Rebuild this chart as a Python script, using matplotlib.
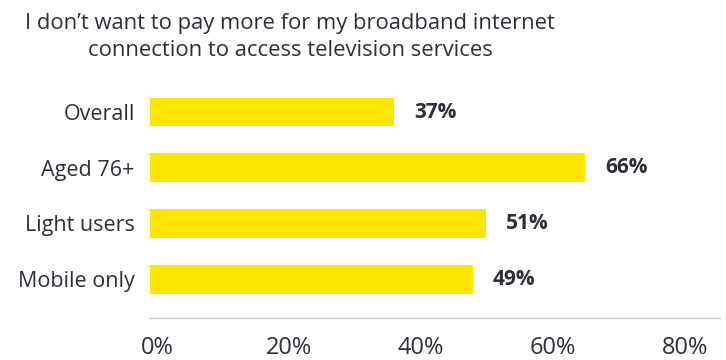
import matplotlib.pyplot as plt
from matplotlib.transforms import ScaledTranslation

categories = ["Overall", "Aged 76+", "Light users", "Mobile only"]
values = [37, 66, 51, 49]
tick_values = [0, 20, 40, 60, 80]
tick_labels = ["0%", "20%", "40%", "60%", "80%"]

YELLOW = "#FFE600"
DARK = "#2E2E38"
plt.rcParams["font.family"] = ["Open Sans", "DejaVu Sans"]

fig = plt.figure(figsize=(7.26, 3.6), dpi=100)
ax = fig.add_axes([150 / 726, 42 / 360, 570 / 726, 233 / 360])

pos = list(range(len(categories)))
ax.barh(pos, values, height=0.52, color=YELLOW, left=0)
for p, v in zip(pos, values):
    ax.text(v + 3, p, f"{v}%", va="center", ha="left",
            fontsize=15, fontweight="bold", color=DARK)

ax.set_xlim(0, 86.4)
ax.set_ylim(3.70, -0.485)
ax.set_yticks(pos)
ax.set_yticklabels(categories, fontsize=15.5, color=DARK)
ax.set_xticks(tick_values)
ax.set_xticklabels(tick_labels, fontsize=17, color=DARK)
ax.tick_params(axis="both", length=0)
ax.tick_params(axis="x", pad=13)
ax.tick_params(axis="y", pad=11)

# nudge the x tick labels a little to the right
shift = ScaledTranslation(7 / 100, 0, fig.dpi_scale_trans)
for lbl in ax.get_xticklabels():
    lbl.set_transform(lbl.get_transform() + shift)

for side in ["top", "right", "left"]:
    ax.spines[side].set_visible(False)
ax.spines["bottom"].set_color("#C8C8D0")
ax.spines["bottom"].set_linewidth(1)

fig.text(0.40, 0.965, "I don’t want to pay more for my broadband internet\nconnection to access television services",
         ha="center", va="top", fontsize=15.8, color=DARK, linespacing=1.4)

fig.savefig("out.png", dpi=100)
